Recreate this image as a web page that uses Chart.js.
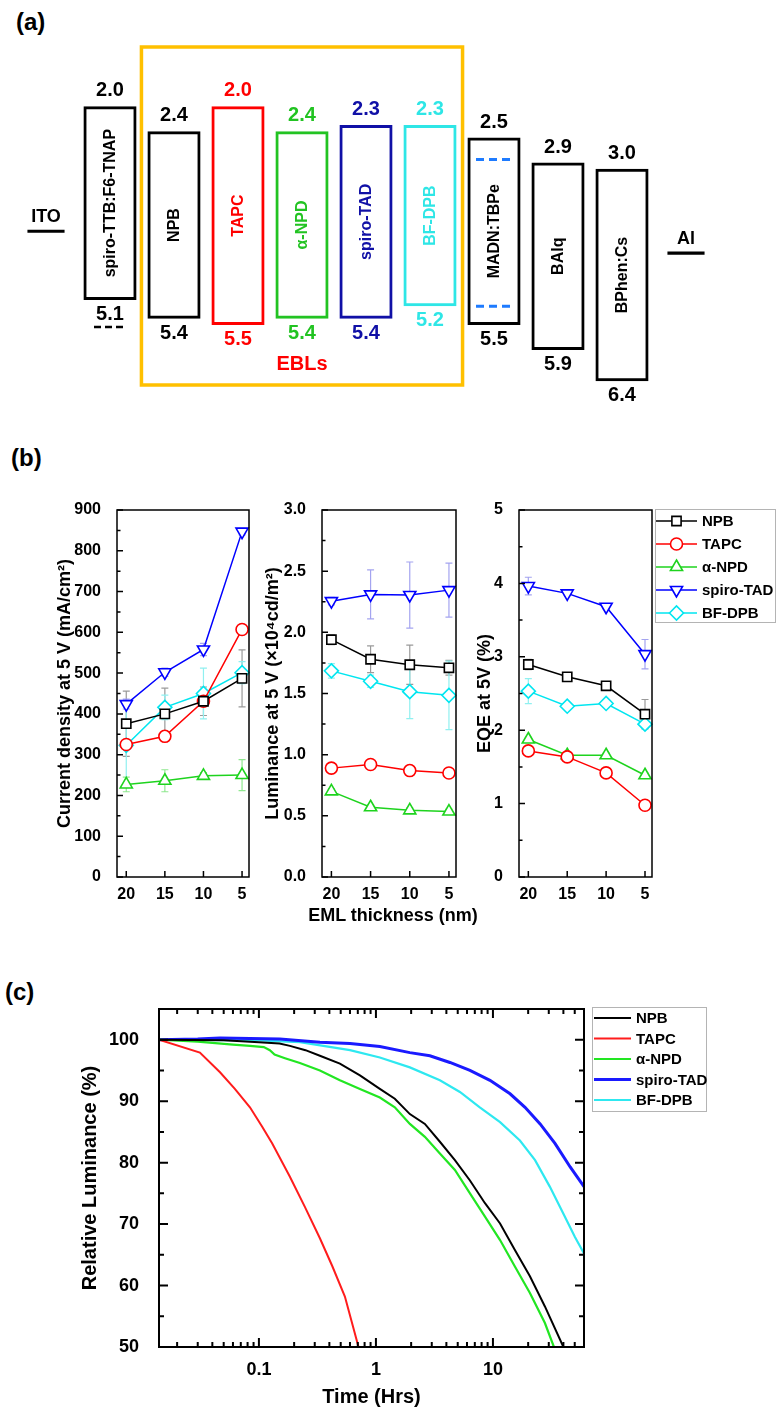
<!DOCTYPE html>
<html>
<head>
<meta charset="utf-8">
<script src="https://cdn.jsdelivr.net/npm/chart.js@4.4.1/dist/chart.umd.min.js"></script>
<style>
  body { margin: 0; background: #fff; }
  #page { position: relative; width: 776px; height: 1412px; overflow: hidden; font-family: 'Liberation Sans', Arial, sans-serif; }
  canvas { position: absolute; }
  .tag { position: absolute; font-weight: bold; font-size: 24px; line-height: 28px; }
  .axisTitle { position: absolute; font-weight: bold; font-size: 18px; line-height: 22px; text-align: center; }
</style>
</head>
<body>
<div id="page">
  <div class="tag" style="left:16px;top:8px">(a)</div>
  <div class="tag" style="left:11px;top:444px">(b)</div>
  <div class="tag" style="left:5px;top:978px">(c)</div>
  <canvas id="levels" width="776" height="440" style="left:0;top:0"></canvas>
  <canvas id="jChart" width="262" height="440" style="left:0;top:490px"></canvas>
  <canvas id="lumChart" width="206" height="440" style="left:262px;top:490px"></canvas>
  <canvas id="eqeChart" width="308" height="440" style="left:468px;top:490px"></canvas>
  <div class="axisTitle" style="left:293px;top:904px;width:200px">EML thickness (nm)</div>
  <canvas id="lifeChart" width="776" height="452" style="left:0;top:960px"></canvas>
</div>
<script>
// (a) energy levels, eV
const layers = ["ITO", "spiro-TTB:F6-TNAP", "NPB", "TAPC", "α-NPD", "spiro-TAD", "BF-DPB", "MADN:TBPe", "BAlq", "BPhen:Cs", "Al"];
const lumo = [null, 2.0, 2.4, 2.0, 2.4, 2.3, 2.3, 2.5, 2.9, 3.0, null];
const homo = [null, 5.1, 5.4, 5.5, 5.4, 5.4, 5.2, 5.5, 5.9, 6.4, null];
const electrodeLevel = [4.0, null, null, null, null, null, null, null, null, null, 4.35];
const dopantLevels = [2.85, 5.2]; // TBPe inside MADN

// (b) device results vs EML thickness (nm)
const thickness = [20, 15, 10, 5];
const seriesNames = ["NPB", "TAPC", "α-NPD", "spiro-TAD", "BF-DPB"];

const currentNPB = [376, 400, 431, 487];
const currentTAPC = [325, 345, 431, 607];
const currentANPD = [227, 236, 248, 250];
const currentTAD = [424, 502, 558, 847];
const currentBF = [323, 416, 450, 501];
const currentErrNPB = [80, 63, 35, 70];
const currentErrTAPC = [3, 3, 3, 3];
const currentErrANPD = [18, 27, 8, 38];
const currentErrTAD = [12, 10, 15, 8];
const currentErrBF = [100, 30, 62, 27];

const lumNPB = [1.94, 1.78, 1.735, 1.71];
const lumTAPC = [0.89, 0.92, 0.87, 0.85];
const lumANPD = [0.70, 0.57, 0.545, 0.535];
const lumTAD = [2.255, 2.31, 2.305, 2.345];
const lumBF = [1.685, 1.60, 1.515, 1.485];
const lumErrNPB = [0.04, 0.11, 0.16, 0.06];
const lumErrTAPC = [0.02, 0.02, 0.02, 0.02];
const lumErrANPD = [0.02, 0.02, 0.02, 0.02];
const lumErrTAD = [0.03, 0.2, 0.27, 0.22];
const lumErrBF = [0.06, 0.05, 0.22, 0.28];

const eqeNPB = [2.895, 2.727, 2.605, 2.218];
const eqeTAPC = [1.718, 1.636, 1.418, 0.977];
const eqeANPD = [1.873, 1.659, 1.659, 1.386];
const eqeTAD = [3.964, 3.864, 3.682, 3.036];
const eqeBF = [2.532, 2.327, 2.364, 2.082];
const eqeErrNPB = [0.07, 0.04, 0.04, 0.2];
const eqeErrTAPC = [0.03, 0.03, 0.03, 0.03];
const eqeErrANPD = [0.03, 0.03, 0.03, 0.03];
const eqeErrTAD = [0.12, 0.03, 0.03, 0.2];
const eqeErrBF = [0.17, 0.04, 0.04, 0.05];

// (c) lifetime: time (h) and relative luminance (%)
const timeNPB = [0.014, 0.05, 0.1, 0.15, 0.184, 0.25, 0.332, 0.492, 0.73, 1.08, 1.45, 1.95, 2.62, 3.52, 4.73, 6.36, 8.55, 11.5, 15.4, 20.7, 27.8, 40];
const lifeNPB = [100, 99.9, 99.6, 99.4, 99.0, 98.3, 97.4, 96.1, 94.2, 92.0, 90.4, 87.9, 86.3, 83.4, 80.4, 77.1, 73.4, 70.1, 65.8, 61.5, 56.6, 50];
const timeTAPC = [0.014, 0.0313, 0.0465, 0.0623, 0.0838, 0.107, 0.130, 0.184, 0.247, 0.332, 0.425, 0.543, 0.71];
const lifeTAPC = [100, 97.9, 94.7, 92.0, 89.0, 85.8, 83.1, 77.7, 72.8, 67.7, 63.1, 58.2, 50];
const timeANPD = [0.014, 0.03, 0.06, 0.084, 0.11, 0.124, 0.136, 0.167, 0.224, 0.332, 0.492, 0.73, 1.08, 1.45, 1.95, 2.62, 3.52, 4.73, 6.36, 8.55, 11.5, 15.4, 20.7, 27.8, 33.2];
const lifeANPD = [100, 99.7, 99.2, 99.0, 98.8, 98.3, 97.6, 97.0, 96.2, 95.0, 93.4, 92.0, 90.6, 89.0, 86.3, 84.2, 81.5, 78.8, 75.0, 71.2, 67.4, 63.1, 58.8, 53.9, 50];
const timeTAD = [0.014, 0.03, 0.0465, 0.084, 0.151, 0.332, 0.6, 1.08, 1.95, 2.89, 4.29, 6.36, 9.43, 14.0, 18.8, 25.3, 34.0, 45.7, 60];
const lifeTAD = [100, 100.1, 100.3, 100.2, 100.1, 99.6, 99.4, 98.9, 97.9, 97.4, 96.3, 95.0, 93.4, 91.2, 89.0, 86.3, 83.1, 79.3, 76.1];
const timeBF = [0.014, 0.1, 0.224, 0.6, 1.08, 1.95, 3.52, 5.22, 7.72, 11.5, 17.0, 22.9, 30.6, 41.2, 50.2, 60];
const lifeBF = [100, 99.9, 99.6, 98.3, 97.1, 95.5, 93.4, 91.5, 89.0, 86.6, 83.6, 80.4, 76.1, 71.2, 67.9, 65.2];

const FONT = "'Liberation Sans', Arial, sans-serif";
Chart.defaults.font.family = FONT;
Chart.defaults.font.weight = "bold";
Chart.defaults.color = "#000";
Chart.defaults.animation = false;

const layerColors = ["#000", "#000", "#000", "#ff0000", "#22c322", "#1010a6", "#2ee6e6", "#000", "#000", "#000", "#000"];
const seriesColors = ["#000000", "#ff0000", "#1ed31e", "#0000ff", "#00e6f0"];
const errorColors = ["#9a9a9a", "#ff9a9a", "#90e890", "#a4a4f0", "#90f0f0"];
const markerStyles = ["rect", "circle", "triangle", "triangle", "rectRot"];
const markerTurns = [0, 0, 0, 180, 0];
const markerSizes = [6.5, 6, 7, 7, 7];
const lifeColors = ["#000000", "#ff1c1c", "#22e622", "#1a1aff", "#2ee8f0"];
const lifeWidths = [2, 2, 2.2, 3, 2.2];

const onStep = (v, step) => Math.abs(v / step - Math.round(v / step)) < 1e-6;
const isDecade = v => Math.abs(Math.log10(v) - Math.round(Math.log10(v))) < 1e-9;
const wholeMantissa = v => {
  const m = v / Math.pow(10, Math.floor(Math.log10(v) + 1e-9));
  return Math.abs(m - Math.round(m)) < 1e-6;
};

// box around plot area + inward tick marks
const frameTicks = {
  id: "frameTicks",
  afterDraw(chart, args, o) {
    const { ctx, chartArea: a } = chart;
    const xs = chart.scales.x, ys = chart.scales.y;
    ctx.save();
    ctx.strokeStyle = "#000";
    ctx.lineWidth = o.width || 1.5;
    ctx.beginPath();
    ys.ticks.forEach(t => {
      const p = ys.getPixelForValue(t.value);
      const len = t.label ? o.major : o.minor;
      ctx.moveTo(a.left, p); ctx.lineTo(a.left + len, p);
      if (o.mirror) { ctx.moveTo(a.right, p); ctx.lineTo(a.right - len, p); }
    });
    xs.ticks.forEach(t => {
      const p = xs.getPixelForValue(t.value);
      const len = t.label ? o.major : o.minor;
      ctx.moveTo(p, a.bottom); ctx.lineTo(p, a.bottom - len);
      if (o.mirror) { ctx.moveTo(p, a.top); ctx.lineTo(p, a.top + len); }
    });
    ctx.stroke();
    ctx.strokeRect(a.left, a.top, a.right - a.left, a.bottom - a.top);
    ctx.restore();
  }
};

const errorBars = {
  id: "errorBars",
  beforeDatasetsDraw(chart) {
    const { ctx } = chart;
    const ys = chart.scales.y;
    ctx.save();
    ctx.lineWidth = 1.2;
    chart.data.datasets.forEach((ds, k) => {
      if (!ds.errors) return;
      const pts = chart.getDatasetMeta(k).data;
      ctx.strokeStyle = ds.errorColor;
      ds.data.forEach((d, i) => {
        const e = ds.errors[i];
        if (!e) return;
        const x = pts[i].x;
        const y1 = ys.getPixelForValue(d.y + e), y2 = ys.getPixelForValue(d.y - e);
        ctx.beginPath();
        ctx.moveTo(x, y1); ctx.lineTo(x, y2);
        ctx.moveTo(x - 3.5, y1); ctx.lineTo(x + 3.5, y1);
        ctx.moveTo(x - 3.5, y2); ctx.lineTo(x + 3.5, y2);
        ctx.stroke();
      });
    });
    ctx.restore();
  }
};

const boxLegend = {
  id: "boxLegend",
  afterDraw(chart, args, o) {
    if (o.boxW === undefined) return;
    const { ctx } = chart;
    ctx.save();
    ctx.fillStyle = "#fff";
    ctx.fillRect(o.boxX, o.boxY, o.boxW, o.boxH);
    ctx.strokeStyle = "#b4b4b4";
    ctx.lineWidth = 1;
    ctx.strokeRect(o.boxX + 0.5, o.boxY + 0.5, o.boxW - 1, o.boxH - 1);
    ctx.font = o.font;
    ctx.textBaseline = "middle";
    ctx.textAlign = "left";
    chart.data.datasets.forEach((ds, i) => {
      const y = o.rowY + i * o.rowStep;
      ctx.strokeStyle = ds.borderColor;
      ctx.lineWidth = ds.borderWidth;
      ctx.beginPath();
      ctx.moveTo(o.lineX0, y); ctx.lineTo(o.lineX1, y);
      ctx.stroke();
      if (ds.pointStyle && Chart.helpers && Chart.helpers.drawPoint) {
        ctx.fillStyle = "#fff";
        ctx.lineWidth = ds.pointBorderWidth;
        Chart.helpers.drawPoint(ctx, {
          pointStyle: ds.pointStyle, rotation: ds.pointRotation || 0,
          radius: ds.pointRadius, borderWidth: ds.pointBorderWidth
        }, (o.lineX0 + o.lineX1) / 2, y);
      }
      ctx.fillStyle = "#000";
      ctx.fillText(ds.label, o.textX, y + 1);
    });
    ctx.restore();
  }
};

Chart.register(frameTicks, errorBars, boxLegend);

// labels, EBL frame and dopant levels for the band diagram
const levelDecor = {
  id: "levelDecor",
  afterDatasetsDraw(chart) {
    const { ctx } = chart;
    const ys = chart.scales.y;
    const boxes = chart.getDatasetMeta(0).data;
    const leads = chart.getDatasetMeta(1).data;
    ctx.save();
    ctx.textAlign = "center";

    const l = boxes[2].x - boxes[2].width / 2 - 6;
    const r = boxes[6].x + boxes[6].width / 2 + 6;
    ctx.strokeStyle = "#ffc000";
    ctx.lineWidth = 3.5;
    ctx.strokeRect(l, 47, r - l, 338);
    ctx.fillStyle = "#ff0000";
    ctx.font = "bold 20px " + FONT;
    ctx.textBaseline = "alphabetic";
    ctx.fillText("EBLs", (l + r) / 2, 370);

    boxes.forEach((b, i) => {
      if (lumo[i] == null) return;
      const top = ys.getPixelForValue(lumo[i]);
      const bot = ys.getPixelForValue(homo[i]);
      ctx.fillStyle = layerColors[i];
      ctx.font = "bold 20px " + FONT;
      ctx.textBaseline = "alphabetic";
      ctx.fillText(lumo[i].toFixed(1), b.x, top - 10);
      ctx.fillText(homo[i].toFixed(1), b.x, bot + 20);
      ctx.save();
      ctx.translate(b.x, (top + bot) / 2);
      ctx.rotate(-Math.PI / 2);
      ctx.font = "bold 16px " + FONT;
      ctx.textBaseline = "middle";
      ctx.fillText(layers[i], 0, 1);
      ctx.restore();
    });

    // doped HTL: dashed level under its HOMO label
    const htl = boxes[1];
    const htlBot = ys.getPixelForValue(homo[1]);
    ctx.strokeStyle = "#000";
    ctx.lineWidth = 2.5;
    ctx.setLineDash([7, 4]);
    ctx.beginPath();
    ctx.moveTo(htl.x - 16, htlBot + 27); ctx.lineTo(htl.x + 16, htlBot + 27);
    ctx.stroke();

    // TBPe levels inside MADN
    const eml = boxes[7];
    ctx.strokeStyle = "#1e7bff";
    ctx.lineWidth = 3;
    ctx.setLineDash([8, 5]);
    dopantLevels.forEach(v => {
      const y = ys.getPixelForValue(v);
      ctx.beginPath();
      ctx.moveTo(eml.x - 18, y); ctx.lineTo(eml.x + 18, y);
      ctx.stroke();
    });
    ctx.setLineDash([]);

    leads.forEach((b, i) => {
      if (electrodeLevel[i] == null) return;
      const top = Math.min(b.y, b.base);
      ctx.fillStyle = "#000";
      ctx.font = "bold 18px " + FONT;
      ctx.textBaseline = "alphabetic";
      ctx.fillText(layers[i], b.x, top - 8);
    });
    ctx.restore();
  }
};

new Chart(document.getElementById("levels"), {
  type: "bar",
  data: {
    labels: layers,
    datasets: [
      {
        data: lumo.map((v, i) => (v == null ? null : [v, homo[i]])),
        borderColor: layerColors,
        backgroundColor: "rgba(0,0,0,0)",
        borderWidth: 3,
        borderSkipped: false,
        barPercentage: 0.83,
        categoryPercentage: 1,
        grouped: false
      },
      {
        data: electrodeLevel.map(v => (v == null ? null : [v - 0.025, v + 0.025])),
        backgroundColor: "#000",
        borderWidth: 0,
        barPercentage: 0.58,
        categoryPercentage: 1,
        grouped: false
      }
    ]
  },
  options: {
    responsive: false,
    layout: { padding: { left: 14, right: 58, top: 0, bottom: 0 } },
    scales: {
      x: { display: false },
      y: { display: false, reverse: true, min: 0.3, max: 7.34 }
    },
    plugins: {
      legend: { display: false },
      tooltip: { enabled: false },
      frameTicks: false,
      errorBars: false,
      boxLegend: false
    }
  },
  plugins: [levelDecor]
});

function effDatasets(values, errors) {
  return seriesNames.map((name, k) => ({
    label: name,
    data: thickness.map((t, i) => ({ x: t, y: values[k][i] })),
    errors: errors[k],
    errorColor: errorColors[k],
    borderColor: seriesColors[k],
    borderWidth: 1.5,
    pointStyle: markerStyles[k],
    pointRotation: markerTurns[k],
    pointRadius: markerSizes[k],
    pointBorderWidth: 1.6,
    pointBackgroundColor: "#fff",
    pointBorderColor: seriesColors[k],
    clip: 10
  }));
}

function effChart(id, values, errors, ax) {
  return new Chart(document.getElementById(id), {
    type: "line",
    data: { datasets: effDatasets(values, errors) },
    options: {
      responsive: false,
      layout: { padding: { top: 20, right: ax.padRight, bottom: 0, left: 0 } },
      scales: {
        x: {
          type: "linear", reverse: true, min: 4.1, max: 21.2,
          afterBuildTicks: s => { s.ticks = thickness.map(v => ({ value: v })); },
          ticks: { autoSkip: false, maxRotation: 0, padding: 0, font: { size: 16, weight: "bold" } },
          grid: { display: false },
          border: { display: false },
          afterFit: s => { s.height = 53; }
        },
        y: {
          min: 0, max: ax.max,
          ticks: {
            stepSize: ax.step, autoSkip: false, padding: 8, font: { size: 16, weight: "bold" },
            callback: v => (onStep(v, ax.major) ? v.toFixed(ax.digits) : "")
          },
          grid: { display: false },
          border: { display: false },
          title: { display: true, text: ax.yTitle, font: { size: 18, weight: "bold" }, padding: { top: ax.titlePad, bottom: 0 } },
          afterFit: s => { s.width = ax.width; }
        }
      },
      plugins: {
        legend: { display: false },
        tooltip: { enabled: false },
        frameTicks: { major: 6, minor: 3.5, width: 1.5 },
        boxLegend: ax.legend || false
      }
    }
  });
}

effChart("jChart",
  [currentNPB, currentTAPC, currentANPD, currentTAD, currentBF],
  [currentErrNPB, currentErrTAPC, currentErrANPD, currentErrTAD, currentErrBF],
  { max: 900, step: 50, major: 100, digits: 0, width: 117, titlePad: 54, padRight: 13,
    yTitle: "Current density at 5 V (mA/cm²)" });

effChart("lumChart",
  [lumNPB, lumTAPC, lumANPD, lumTAD, lumBF],
  [lumErrNPB, lumErrTAPC, lumErrANPD, lumErrTAD, lumErrBF],
  { max: 3, step: 0.25, major: 0.5, digits: 1, width: 60, titlePad: 0, padRight: 12,
    yTitle: "Luminance at 5 V (×10⁴cd/m²)" });

effChart("eqeChart",
  [eqeNPB, eqeTAPC, eqeANPD, eqeTAD, eqeBF],
  [eqeErrNPB, eqeErrTAPC, eqeErrANPD, eqeErrTAD, eqeErrBF],
  { max: 5, step: 0.5, major: 1, digits: 0, width: 51, titlePad: 6, padRight: 124,
    yTitle: "EQE at 5V (%)",
    legend: { boxX: 187, boxY: 19, boxW: 121, boxH: 114, rowY: 31, rowStep: 23,
              lineX0: 188, lineX1: 229, textX: 234, font: "bold 15px " + FONT } });

const lifeTimes = [timeNPB, timeTAPC, timeANPD, timeTAD, timeBF];
const lifeLums = [lifeNPB, lifeTAPC, lifeANPD, lifeTAD, lifeBF];

new Chart(document.getElementById("lifeChart"), {
  type: "line",
  data: {
    datasets: seriesNames.map((name, k) => ({
      label: name,
      data: lifeTimes[k].map((t, i) => ({ x: t, y: lifeLums[k][i] })),
      borderColor: lifeColors[k],
      borderWidth: lifeWidths[k],
      pointRadius: 0,
      tension: 0
    }))
  },
  options: {
    responsive: false,
    layout: { padding: { top: 49, right: 192, bottom: 0, left: 0 } },
    scales: {
      x: {
        type: "logarithmic", min: 0.014, max: 60,
        afterBuildTicks: s => { s.ticks = s.ticks.filter(t => wholeMantissa(t.value)); },
        ticks: {
          autoSkip: false, maxRotation: 0, padding: 4, font: { size: 18, weight: "bold" },
          callback: v => (isDecade(v) ? String(v) : "")
        },
        grid: { display: false },
        border: { display: false },
        title: { display: true, text: "Time (Hrs)", font: { size: 20, weight: "bold" }, padding: { top: 0, bottom: 3 } },
        afterFit: s => { s.height = 65; }
      },
      y: {
        min: 50, max: 105,
        ticks: {
          stepSize: 5, autoSkip: false, padding: 12, font: { size: 18, weight: "bold" },
          callback: v => (v % 10 === 0 ? String(v) : "")
        },
        grid: { display: false },
        border: { display: false },
        title: { display: true, text: "Relative Luminance (%)", font: { size: 20, weight: "bold" }, padding: { top: 78, bottom: 0 } },
        afterFit: s => { s.width = 159; }
      }
    },
    plugins: {
      legend: { display: false },
      tooltip: { enabled: false },
      frameTicks: { major: 9, minor: 5, width: 2, mirror: true },
      boxLegend: { boxX: 592, boxY: 47, boxW: 115, boxH: 105, rowY: 58, rowStep: 20.5,
                   lineX0: 594, lineX1: 631, textX: 636, font: "bold 15px " + FONT }
    }
  }
});
</script>
</body>
</html>
